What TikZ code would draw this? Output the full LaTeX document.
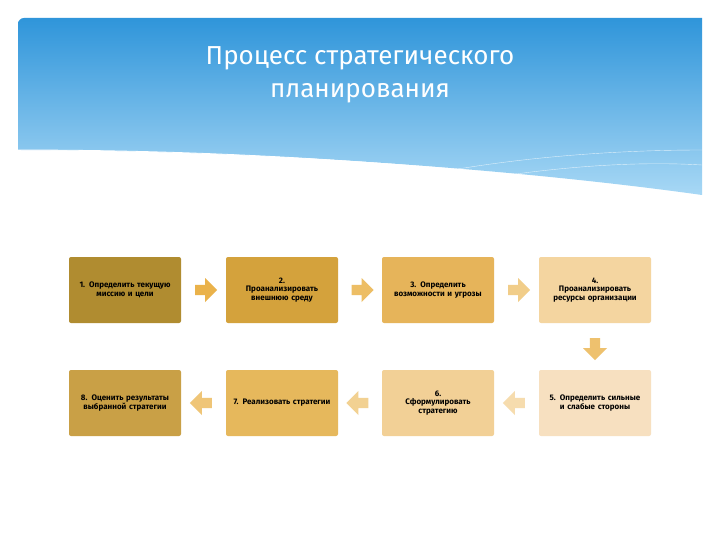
\documentclass[tikz,border=0pt]{standalone}
\usepackage{fontspec}
\setmainfont{Fira Sans}
\usetikzlibrary{shapes.arrows,calc}
\definecolor{bA}{HTML}{B08C30}
\definecolor{bB}{HTML}{D4A23C}
\definecolor{bC}{HTML}{E6B45A}
\definecolor{bD}{HTML}{F4D5A0}
\definecolor{bE}{HTML}{F7E0C0}
\definecolor{bF}{HTML}{F2D096}
\definecolor{bG}{HTML}{E6B85C}
\definecolor{bH}{HTML}{C9A046}
\definecolor{skyT}{HTML}{2F95DA}
\definecolor{skyB}{HTML}{A8D8F5}
\definecolor{arr}{HTML}{EAB24A}
\begin{document}
\begin{tikzpicture}[x=1pt,y=-1pt,
 boxs/.style={rounded corners=2pt,minimum width=112pt,minimum height=66pt,text width=104pt,align=center,inner sep=2pt,font=\fontsize{8}{8.5}\selectfont\bfseries},
 arrs/.style={single arrow,draw=none,minimum width=24pt,minimum height=22pt,single arrow head extend=3pt,inner sep=2pt}]
\useasboundingbox (0,0) rectangle (720,540);
\fill[white] (0,0) rectangle (720,540);
\shade[top color=skyT,bottom color=skyB] (18,22) to[rounded corners=6pt] (18,18) -- (702,18) -- (702,195) .. controls (560,175) and (300,150) .. (18,150) -- cycle;
\draw[white,thick] (18,150) .. controls (250,150) and (450,165) .. (702,196);
\draw[white,opacity=.7] (380,185) .. controls (480,160) and (600,150) .. (702,150);
\draw[white,opacity=.7] (420,190) .. controls (520,170) and (620,160) .. (702,165);
\node[text=white,align=center,font=\fontsize{26}{33}\selectfont] (title) at (360,75) {Процесс стратегического\\планирования};
\node[boxs,fill=bA] (n1) at (125,290) {1. Определить текущую миссию и цели};
\node[boxs,fill=bB] (n2) at (282,290) {2.\\Проанализировать внешнюю среду};
\node[boxs,fill=bC] (n3) at (438,290) {3. Определить возможности и угрозы};
\node[boxs,fill=bD] (n4) at (595,290) {4.\\Проанализировать ресурсы организации};
\node[boxs,fill=bE] (n5) at (595,403) {5. Определить сильные и слабые стороны};
\node[boxs,fill=bF] (n6) at (438,403) {6.\\Сформулировать стратегию};
\node[boxs,fill=bG] (n7) at (282,403) {7. Реализовать стратегии};
\node[boxs,fill=bH] (n8) at (125,403) {8. Оценить результаты выбранной стратегии};
\node[arrs,fill=arr] (a1) at ($(n1.east)!0.5!(n2.west)$) {};
\node[arrs,fill=arr!85] (a2) at ($(n2.east)!0.5!(n3.west)$) {};
\node[arrs,fill=arr!65] (a3) at ($(n3.east)!0.5!(n4.west)$) {};
\node[arrs,fill=arr!80,shape border rotate=270] (a4) at ($(n4.south)!0.5!(n5.north)$) {};
\node[arrs,fill=arr!45,shape border rotate=180] (a5) at ($(n5.west)!0.5!(n6.east)$) {};
\node[arrs,fill=arr!60,shape border rotate=180] (a6) at ($(n6.west)!0.5!(n7.east)$) {};
\node[arrs,fill=arr!75,shape border rotate=180] (a7) at ($(n7.west)!0.5!(n8.east)$) {};
\end{tikzpicture}
\end{document}
